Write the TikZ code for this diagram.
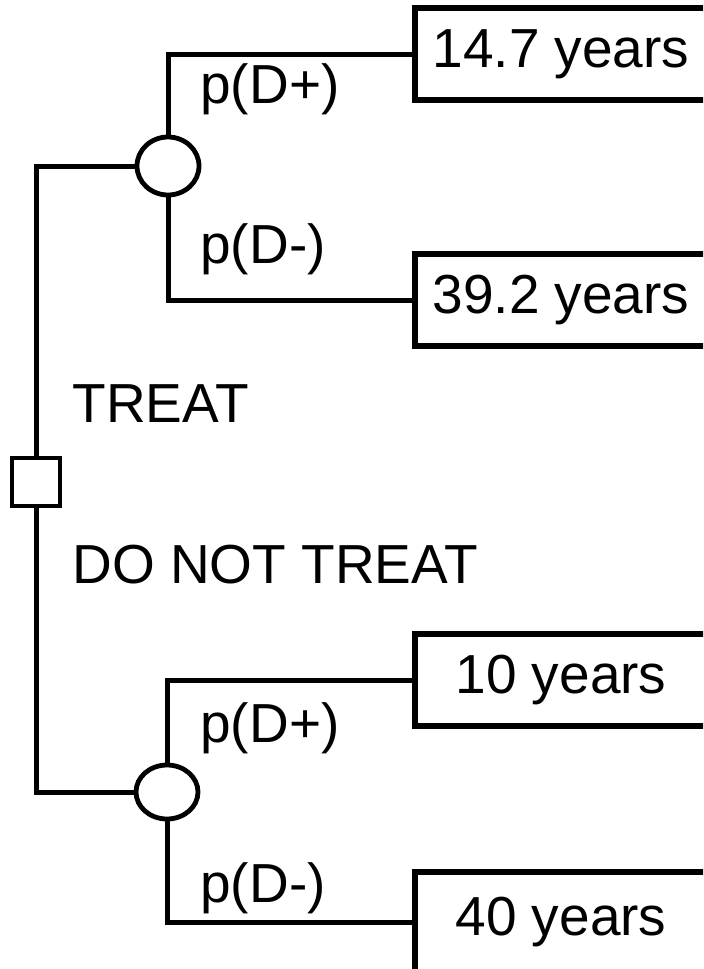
\documentclass[tikz,border=0pt]{standalone}
\usepackage{fontspec}
\setmainfont{Liberation Sans}
\usepackage{tikz}
\usetikzlibrary{shapes.geometric, positioning}

\begin{document}
\begin{tikzpicture}[
    x=0.5pt, y=-0.5pt,
    every node/.style={font=\fontsize{27.5}{33}\selectfont, inner sep=0pt},
    decnode/.style={rectangle, draw=black, line width=2.4pt, fill=white, minimum width=24pt, minimum height=24pt},
    chancenode/.style={ellipse, draw=black, line width=2.4pt, fill=white, minimum width=31pt, minimum height=29pt},
    outnode/.style={rectangle, draw=black, line width=2.6pt, fill=white, minimum width=146pt, minimum height=46pt, align=center},
    lbl/.style={anchor=base west},
    branch/.style={line width=2.5pt, black}
]
\useasboundingbox (0,0) rectangle (703,969);
\clip (0,0) rectangle (703,969);

% Decision and chance nodes
\node[decnode] (dec) at (36,482) {};
\node[chancenode] (c1) at (168,166) {};
\node[chancenode, minimum height=27pt] (c2) at (167,792) {};

% Outcomes
\node[outnode] (o1) at (561,54) {14.7 years};
\node[outnode] (o2) at (561,300) {39.2 years};
\node[outnode] (o3) at (561,680) {10 years};
\node[outnode, minimum height=50pt] (o4) at (561,922) {40 years};

% Branches
\draw[branch] (dec.north) |- (c1.west);
\draw[branch] (dec.south) |- (c2.west);
\draw[branch] (c1.north) |- (o1.west);
\draw[branch] (c1.south) |- (o2.west);
\draw[branch] (c2.north) |- (o3.west);
\draw[branch] (c2.south) |- (o4.west);

% Branch labels
\node[lbl] (treat) at (72,422) {TREAT};
\node[lbl] (notreat) at (72,583) {DO NOT TREAT};
\node[lbl] (p1) at (200,103) {p(D+)};
\node[lbl] (p2) at (200,263) {p(D-)};
\node[lbl] (p3) at (200,742) {p(D+)};
\node[lbl] (p4) at (200,902) {p(D-)};

\end{tikzpicture}
\end{document}
